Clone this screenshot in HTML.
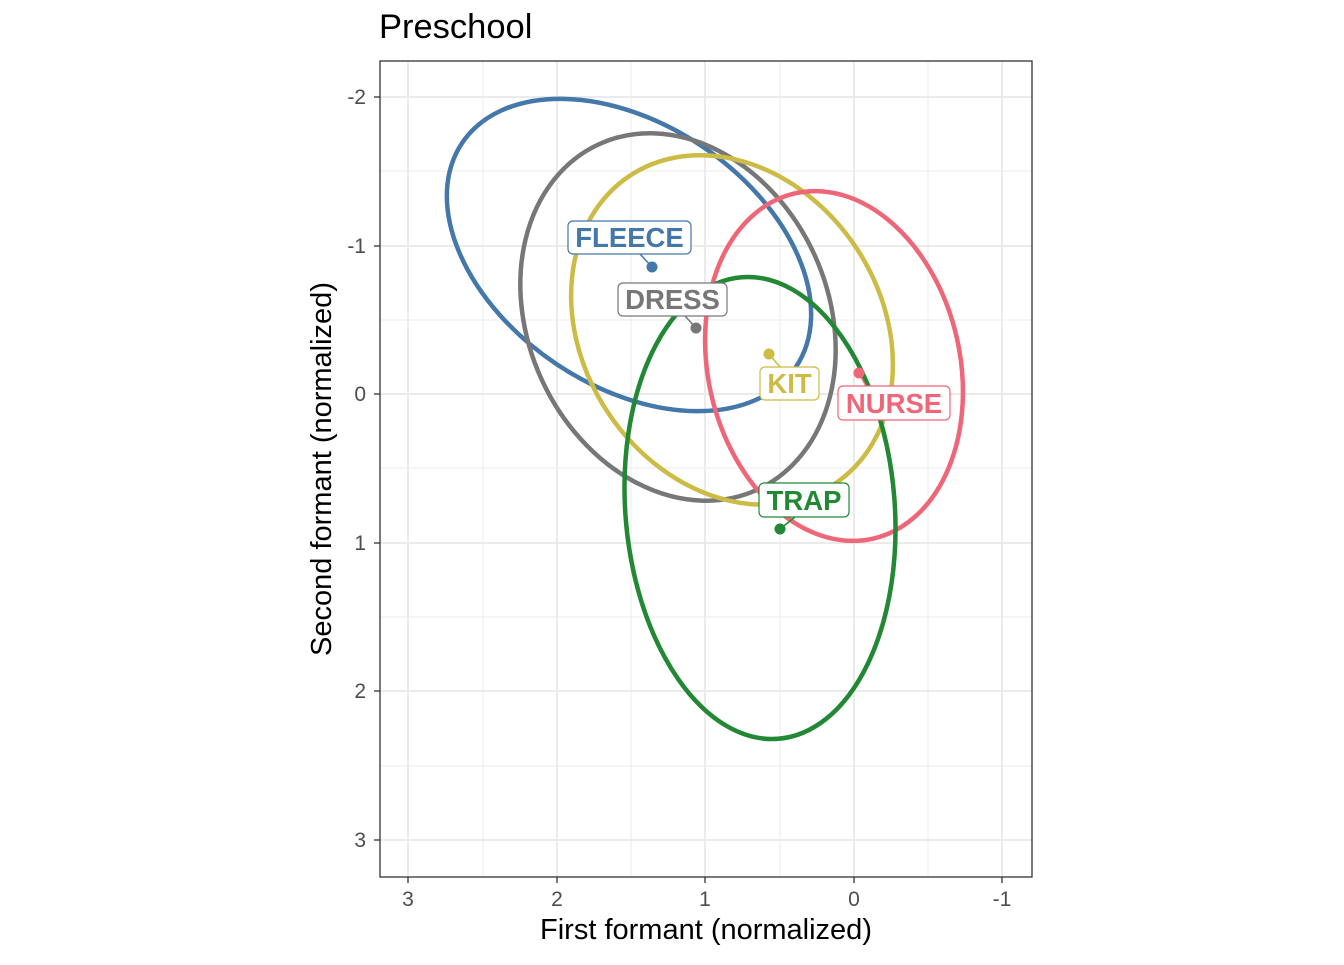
<!DOCTYPE html>
<html><head><meta charset="utf-8"><style>html,body{margin:0;padding:0;background:#fff}</style></head>
<body>
<svg width="1344" height="960" xmlns="http://www.w3.org/2000/svg" font-family="Liberation Sans, sans-serif">
<rect width="1344" height="960" fill="#fff"/>
<g stroke="#ebebeb" stroke-width="1">
<line x1="483" y1="61" x2="483" y2="877"/><line x1="631" y1="61" x2="631" y2="877"/><line x1="780" y1="61" x2="780" y2="877"/><line x1="928" y1="61" x2="928" y2="877"/>
<line x1="380" y1="171" x2="1032" y2="171"/><line x1="380" y1="320" x2="1032" y2="320"/><line x1="380" y1="468" x2="1032" y2="468"/><line x1="380" y1="617" x2="1032" y2="617"/><line x1="380" y1="766" x2="1032" y2="766"/>
</g>
<g stroke="#ebebeb" stroke-width="2">
<line x1="408" y1="61" x2="408" y2="877"/><line x1="557" y1="61" x2="557" y2="877"/><line x1="705" y1="61" x2="705" y2="877"/><line x1="854" y1="61" x2="854" y2="877"/><line x1="1002" y1="61" x2="1002" y2="877"/>
<line x1="380" y1="97" x2="1032" y2="97"/><line x1="380" y1="246" x2="1032" y2="246"/><line x1="380" y1="394" x2="1032" y2="394"/><line x1="380" y1="543" x2="1032" y2="543"/><line x1="380" y1="691" x2="1032" y2="691"/><line x1="380" y1="840" x2="1032" y2="840"/>
</g>
<g fill="none" stroke-width="4.5">
<ellipse cx="629" cy="255" rx="201" ry="131" transform="rotate(33.9 629 255)" stroke="#4477AA"/>
<ellipse cx="678" cy="317" rx="190" ry="150" transform="rotate(65.4 678 317)" stroke="#777777"/>
<ellipse cx="732" cy="330" rx="185" ry="149" transform="rotate(56.4 732 330)" stroke="#CCBB44"/>
<ellipse cx="834" cy="366" rx="177" ry="126" transform="rotate(77.3 834 366)" stroke="#EE6677"/>
<ellipse cx="760" cy="508" rx="231.5" ry="134.7" transform="rotate(85.5 760 508)" stroke="#228833"/>
</g>
<g stroke-width="1.5">
<line x1="640" y1="254" x2="652" y2="267" stroke="#4477AA"/>
<line x1="685" y1="316" x2="696" y2="328" stroke="#777777"/>
<line x1="769" y1="354" x2="780" y2="367" stroke="#CCBB44"/>
<line x1="859" y1="373" x2="866" y2="386" stroke="#EE6677"/>
<line x1="795" y1="517" x2="780" y2="529" stroke="#228833"/>
</g>
<circle cx="652" cy="267" r="5.5" fill="#4477AA"/>
<circle cx="696" cy="328" r="5.5" fill="#777777"/>
<circle cx="769" cy="354" r="5.5" fill="#CCBB44"/>
<circle cx="859" cy="373" r="5.5" fill="#EE6677"/>
<circle cx="780" cy="529" r="5.5" fill="#228833"/>
<g font-weight="bold" font-size="27.5" text-anchor="middle" stroke-width="1.2">
<rect x="568" y="221" width="123" height="33" rx="5" fill="#fff" stroke="#4477AA"/><text x="629.5" y="247" fill="#4477AA">FLEECE</text>
<rect x="618" y="283" width="109" height="33" rx="5" fill="#fff" stroke="#777777"/><text x="672.5" y="309" fill="#777777">DRESS</text>
<rect x="760" y="367" width="59" height="33" rx="5" fill="#fff" stroke="#CCBB44"/><text x="789.5" y="393" fill="#CCBB44">KIT</text>
<rect x="838" y="386" width="112" height="34" rx="5" fill="#fff" stroke="#EE6677"/><text x="894" y="413" fill="#EE6677">NURSE</text>
<rect x="759" y="483" width="90" height="34" rx="5" fill="#fff" stroke="#228833"/><text x="804" y="510" fill="#228833">TRAP</text>
</g>
<rect x="380" y="61" width="652" height="816" fill="none" stroke="#333" stroke-width="1.3"/>
<g stroke="#333" stroke-width="1.3">
<line x1="408" y1="877" x2="408" y2="883"/><line x1="557" y1="877" x2="557" y2="883"/><line x1="705" y1="877" x2="705" y2="883"/><line x1="854" y1="877" x2="854" y2="883"/><line x1="1002" y1="877" x2="1002" y2="883"/>
<line x1="374" y1="97" x2="380" y2="97"/><line x1="374" y1="246" x2="380" y2="246"/><line x1="374" y1="394" x2="380" y2="394"/><line x1="374" y1="543" x2="380" y2="543"/><line x1="374" y1="691" x2="380" y2="691"/><line x1="374" y1="840" x2="380" y2="840"/>
</g>
<g font-size="21" fill="#4d4d4d" text-anchor="middle">
<text x="408" y="906">3</text><text x="557" y="906">2</text><text x="705" y="906">1</text><text x="854" y="906">0</text><text x="1002" y="906">-1</text>
</g>
<g font-size="21" fill="#4d4d4d" text-anchor="end">
<text x="366" y="104">-2</text><text x="366" y="253">-1</text><text x="366" y="401">0</text><text x="366" y="550">1</text><text x="366" y="698">2</text><text x="366" y="847">3</text>
</g>
<text x="706" y="939" font-size="29" text-anchor="middle" fill="#000">First formant (normalized)</text>
<text transform="translate(331 469) rotate(-90)" font-size="29" text-anchor="middle" fill="#000">Second formant (normalized)</text>
<text x="379" y="38" font-size="34.5" fill="#000">Preschool</text>
</svg>
</body></html>
